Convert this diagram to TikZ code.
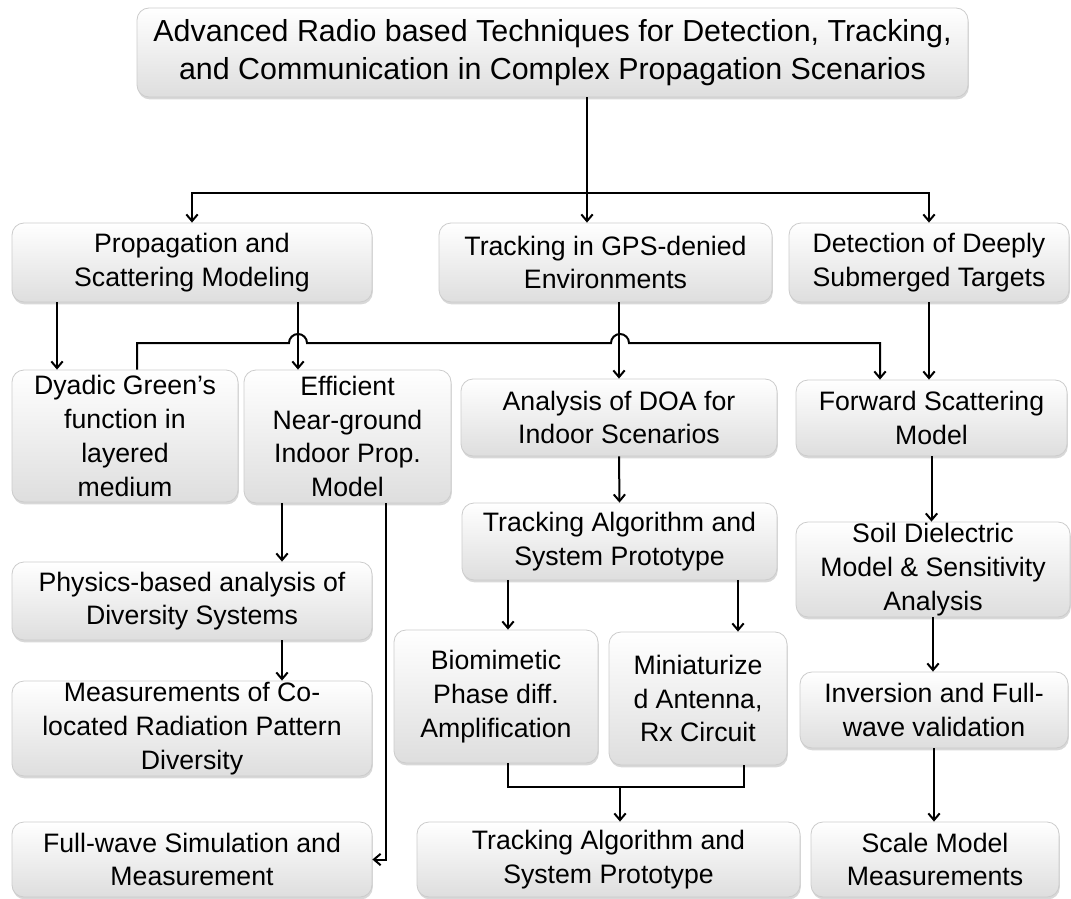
\documentclass[tikz,border=0pt]{standalone}
\usepackage{fontspec}
\setmainfont{Liberation Sans}
\usetikzlibrary{arrows.meta,shadows}
\newcommand{\mybox}[7][]{%
  \node[box,#1,minimum width={(#5-#3)*0.75pt},minimum height={(#6-#4)*0.75pt}] (#2) at ({(#3+#5)/2},{(#4+#6)/2}) {#7};}
\begin{document}
\begin{tikzpicture}[x=0.75pt,y=-0.75pt,
  box/.style={draw=black!20, line width=0.6pt, rounded corners=9pt,
    top color=white, bottom color=black!13,
    drop shadow={opacity=0.3, shadow xshift=0.6pt, shadow yshift=-1.8pt},
    align=center, inner sep=1pt, font=\fontsize{20}{25.3}\selectfont},
  conn/.style={line width=1.5pt, draw=black},
  arr/.style={conn, -{Straight Barb[length=5pt,width=8.5pt]}}]
\useasboundingbox (0,0) rectangle (1071,899);
\fill[white] (0,0) rectangle (1071,899);

% boxes
\mybox[font=\fontsize{22.8}{28.5}\selectfont]{top}{137}{8}{968}{97}{Advanced Radio based Techniques for Detection, Tracking,\\and Communication in Complex Propagation Scenarios}
\mybox{prop}{12}{223}{372}{302}{Propagation and\\Scattering Modeling}
\mybox{gps}{439}{223}{772}{302}{Tracking in GPS-denied\\Environments}
\mybox{det}{789}{223}{1069}{302}{Detection of Deeply\\Submerged Targets}
\mybox{dya}{12}{370}{238}{502}{Dyadic Green’s\\function in\\layered\\medium}
\mybox{eff}{244}{370}{451}{503}{Efficient\\Near-ground\\Indoor Prop.\\Model}
\mybox{ana}{461}{379}{777}{456}{Analysis of DOA for\\Indoor Scenarios}
\mybox{fwd}{796}{380}{1067}{456}{Forward Scattering\\Model}
\mybox{ta1}{462}{503}{777}{580}{Tracking Algorithm and\\System Prototype}
\mybox{soil}{796}{526}{1070}{613}{Soil Dielectric\\Model \& Sensitivity\\Analysis}
\mybox{phys}{12}{562}{372}{640}{Physics-based analysis of\\Diversity Systems}
\mybox{bio}{394}{630}{598}{763}{Biomimetic\\Phase diff.\\Amplification}
\mybox{mini}{609}{632}{787}{765}{Miniaturize\\d Antenna,\\Rx Circuit}
\mybox{inv}{800}{672}{1068}{748}{Inversion and Full-\\wave validation}
\mybox{meas}{12}{682}{372}{775}{Measurements of Co-\\located Radiation Pattern\\Diversity}
\mybox{full}{12}{822}{372}{897}{Full-wave Simulation and\\Measurement}
\mybox{ta2}{417}{822}{800}{897}{Tracking Algorithm and\\System Prototype}
\mybox{scale}{811}{822}{1059}{897}{Scale Model\\Measurements}

% junction coordinates
\coordinate (j1) at (587,193);
\coordinate (pd) at (57,0);
\coordinate (pe) at (298,0);
\coordinate (b1) at (137,343);
\coordinate (b2) at (880,343);
\coordinate (ep) at (282,0);
\coordinate (ef) at (386,0);
\coordinate (tb) at (508,0);
\coordinate (tm) at (738,0);
\coordinate (bl) at (508,787);
\coordinate (bR) at (744,787);
\coordinate (br) at (620,787);

% connectors
\draw[arr] (top.south -| j1) -- (j1) -| (prop.north);
\draw[arr] (j1) -- (gps.north -| j1);
\draw[arr] (j1) -| (det.north);

\draw[arr] (prop.south -| pd) -- (dya.north -| pd);
\draw[arr] (prop.south -| pe) -- (eff.north -| pe);
\draw[arr] (dya.north -| b1) -- (b1) -- (289,343)
   arc[start angle=180,end angle=0,radius=6.75pt] -- (611,343)
   arc[start angle=180,end angle=0,radius=6.75pt] -- (b2) -- (fwd.north -| b2);
\draw[arr] (gps.south -| ana.north) -- (ana.north);
\draw[arr] (det.south) -- (fwd.north -| det.south);

\draw[arr] (eff.south -| ep) -- (phys.north -| ep);
\draw[arr] (phys.south -| ep) -- (meas.north -| ep);
\draw[arr] (eff.south -| ef) |- (full.east);

\draw[arr] (ana.south) -- (ta1.north);
\draw[arr] (ta1.south -| tb) -- (bio.north -| tb);
\draw[arr] (ta1.south -| tm) -- (mini.north -| tm);
\draw[conn] (bio.south -| bl) -- (bl) -- (bR) -- (mini.south -| bR);
\draw[arr] (br) -- (ta2.north -| br);

\draw[arr] (fwd.south) -- (soil.north -| fwd.south);
\draw[arr] (soil.south) -- (inv.north -| soil.south);
\draw[arr] (inv.south) -- (scale.north -| inv.south);
\end{tikzpicture}
\end{document}
